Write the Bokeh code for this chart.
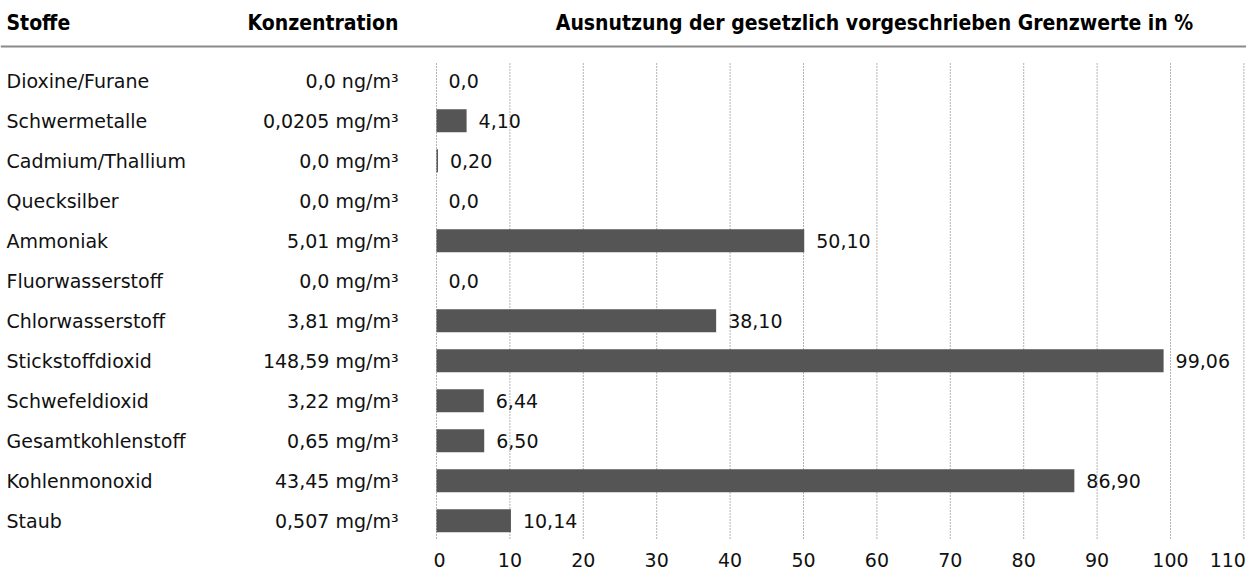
from bokeh.plotting import figure
from bokeh.models import Range1d, Span, ColumnDataSource
from bokeh.core.properties import value
from bokeh.embed import file_html
from bokeh.resources import INLINE

# ---- data ----
stoffe = ["Dioxine/Furane", "Schwermetalle", "Cadmium/Thallium", "Quecksilber",
          "Ammoniak", "Fluorwasserstoff", "Chlorwasserstoff", "Stickstoffdioxid",
          "Schwefeldioxid", "Gesamtkohlenstoff", "Kohlenmonoxid", "Staub"]
konzentration = ["0,0 ng/m³", "0,0205 mg/m³", "0,0 mg/m³", "0,0 mg/m³",
                 "5,01 mg/m³", "0,0 mg/m³", "3,81 mg/m³", "148,59 mg/m³",
                 "3,22 mg/m³", "0,65 mg/m³", "43,45 mg/m³", "0,507 mg/m³"]
ausnutzung = [0.0, 4.10, 0.20, 0.0, 50.10, 0.0, 38.10, 99.06, 6.44, 6.50, 86.90, 10.14]
ausnutzung_labels = ["0,0", "4,10", "0,20", "0,0", "50,10", "0,0", "38,10",
                     "99,06", "6,44", "6,50", "86,90", "10,14"]
ticks = [0, 10, 20, 30, 40, 50, 60, 70, 80, 90, 100, 110]
tick_labels = ["0", "10", "20", "30", "40", "50", "60", "70", "80", "90", "100", "110"]
headers = ["Stoffe", "Konzentration", "Ausnutzung der gesetzlich vorgeschrieben Grenzwerte in %"]

# ---- layout helpers (pixels -> data) ----
W, H = 1246, 576
X0_PX = 436          # px of value 0
SCALE = 7.34         # px per percent
ROW0_PX = 80.2       # px of first row centre
ROW_STEP = 40.0

def xd(px):
    return (px - X0_PX) / SCALE

def yd(py):
    return (py - ROW0_PX) / ROW_STEP

FONT = value("DejaVu Sans")
FONT_B = value("DejaVu Sans Condensed")
TXT = "#111111"
FS = "19px"

p = figure(width=W, height=H, output_backend="svg", toolbar_location=None,
           x_range=Range1d(xd(0), xd(W)), y_range=Range1d(yd(H), yd(0)),
           x_axis_location=None, y_axis_location=None,
           min_border_left=0, min_border_right=0, min_border_top=0, min_border_bottom=0)
p.outline_line_color = None
p.grid.visible = False
p.background_fill_color = "white"
p.border_fill_color = "white"

rows = list(range(len(stoffe)))
src = ColumnDataSource(dict(y=rows, name=stoffe, conc=konzentration,
                            v=ausnutzung, vl=ausnutzung_labels))

# dotted grid lines
n = len(ticks)
p.segment(x0=ticks, x1=ticks, y0=[yd(63)] * n, y1=[yd(540)] * n,
          line_color="#666666", line_width=1, line_dash="1 2")

# tick labels (last one right-aligned so it stays inside the page)
tick_align = ["center"] * (n - 1) + ["right"]
tick_off = [3] + [0] * (n - 2) + [2]
p.text(x=ticks, y=[yd(559)] * n, text=tick_labels, text_align=tick_align,
       x_offset=tick_off, text_font=FONT, text_font_size=FS, text_color=TXT,
       text_baseline="middle")

# header rule
p.add_layout(Span(location=yd(46), dimension="width", line_color="#8a8a8a", line_width=2))

# bars
p.hbar(y="y", left=0, right="v", height=23 / ROW_STEP, source=src,
       fill_color="#555555", line_color=None)

# text columns
p.text(x=xd(6), y="y", text="name", source=src, text_font=FONT, text_font_size=FS,
       text_color=TXT, text_baseline="middle", text_align="left")
p.text(x=xd(398), y="y", text="conc", source=src, text_font=FONT, text_font_size=FS,
       text_color=TXT, text_baseline="middle", text_align="right")
p.text(x="v", y="y", text="vl", source=src, x_offset=12, text_font=FONT,
       text_font_size=FS, text_color=TXT, text_baseline="middle", text_align="left")

# headers
hy = yd(22.5)
p.text(x=[xd(6), xd(398), xd(874)], y=[hy, hy, hy], text=headers,
       text_align=["left", "right", "center"], text_font=FONT_B, text_font_style="bold",
       text_font_size="21px", text_color="#000000", text_baseline="middle")

open("out.html", "w").write(file_html(p, INLINE))
